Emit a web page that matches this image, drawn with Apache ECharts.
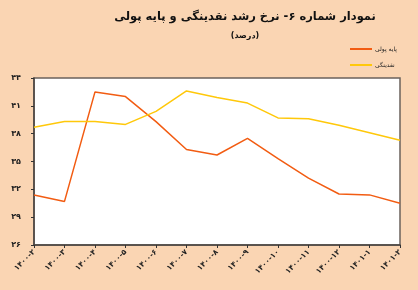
<!DOCTYPE html>
<html><head><meta charset="utf-8">
<script src="https://cdn.jsdelivr.net/npm/echarts@6/dist/echarts.min.js"></script>
<style>html,body{margin:0;padding:0;background:#FAD5B3;}#c{width:418px;height:290px;}</style>
</head><body><div id="c"></div>
<script>
const categories = ['۱۴۰۰-۲','۱۴۰۰-۳','۱۴۰۰-۴','۱۴۰۰-۵','۱۴۰۰-۶','۱۴۰۰-۷','۱۴۰۰-۸','۱۴۰۰-۹','۱۴۰۰-۱۰','۱۴۰۰-۱۱','۱۴۰۰-۱۲','۱۴۰۱-۱','۱۴۰۱-۲'];
const baseMoney = [31.4, 30.7, 42.5, 42.0, 39.3, 36.3, 35.7, 37.5, 35.3, 33.2, 31.5, 31.4, 30.5];
const liquidity = [38.7, 39.3, 39.3, 39.0, 40.4, 42.6, 41.9, 41.3, 39.7, 39.6, 38.9, 38.1, 37.3];
const yTickValues = [26, 29, 32, 35, 38, 41, 44];
const yTickLabels = ['۲۶','۲۹','۳۲','۳۵','۳۸','۴۱','۴۴'];
const seriesNames = ['پایه پولی','نقدینگی'];
const titleText = 'نمودار شماره ۶- نرخ رشد نقدینگی و پایه پولی';
const subtitleText = '(درصد)';

const chart = echarts.init(document.getElementById('c'), null, {renderer:'canvas'});
const font = 'DejaVu Sans';
chart.setOption({
  backgroundColor: '#FAD5B3',
  animation: false,
  title: [
    {text: titleText, left: 240, top: 6, textAlign: 'center',
     textStyle: {fontFamily: font, fontSize: 11.5, fontWeight: 'bold', color: '#111'}},
    {text: subtitleText, left: 240, top: 27, textAlign: 'center',
     textStyle: {fontFamily: font, fontSize: 8, fontWeight: 'bold', color: '#111'}}
  ],
  legend: {
    orient: 'vertical', left: 345, top: 41, itemWidth: 22, itemHeight: 2, itemGap: 10,
    icon: 'rect',
    textStyle: {fontFamily: font, fontSize: 6, color: '#222', padding: [0,0,0,-2]},
    data: seriesNames
  },
  grid: {left: 34, right: 18, top: 78, bottom: 45, show: true, backgroundColor: '#fff',
         borderColor: '#6b625c', borderWidth: 1.5},
  xAxis: {
    type: 'category', data: categories, boundaryGap: false,
    axisLine: {lineStyle: {color: '#4a4440', width: 1.5}},
    axisTick: {show: true, length: 3, lineStyle: {color: '#333'}},
    axisLabel: {rotate: 45, fontFamily: font, fontSize: 7.5, fontWeight: 'bold', color: '#222', margin: 6, interval: 0},
    splitLine: {show: false}
  },
  yAxis: {
    type: 'value', min: 26, max: 44, interval: 3,
    axisLine: {show: true, lineStyle: {color: '#4a4440', width: 1.5}},
    axisTick: {show: true, length: 3, lineStyle: {color: '#333'}},
    axisLabel: {fontFamily: font, fontSize: 8, fontWeight: 'bold', color: '#222', margin: 13,
      formatter: v => yTickLabels[yTickValues.indexOf(v)]},
    splitLine: {show: false}
  },
  series: [
    {name: seriesNames[0], type: 'line', data: baseMoney, symbol: 'none',
     lineStyle: {color: '#F25C12', width: 1.5}, itemStyle: {color: '#F25C12'}},
    {name: seriesNames[1], type: 'line', data: liquidity, symbol: 'none',
     lineStyle: {color: '#FFC80A', width: 1.5}, itemStyle: {color: '#FFC80A'}}
  ]
});
</script></body></html>
